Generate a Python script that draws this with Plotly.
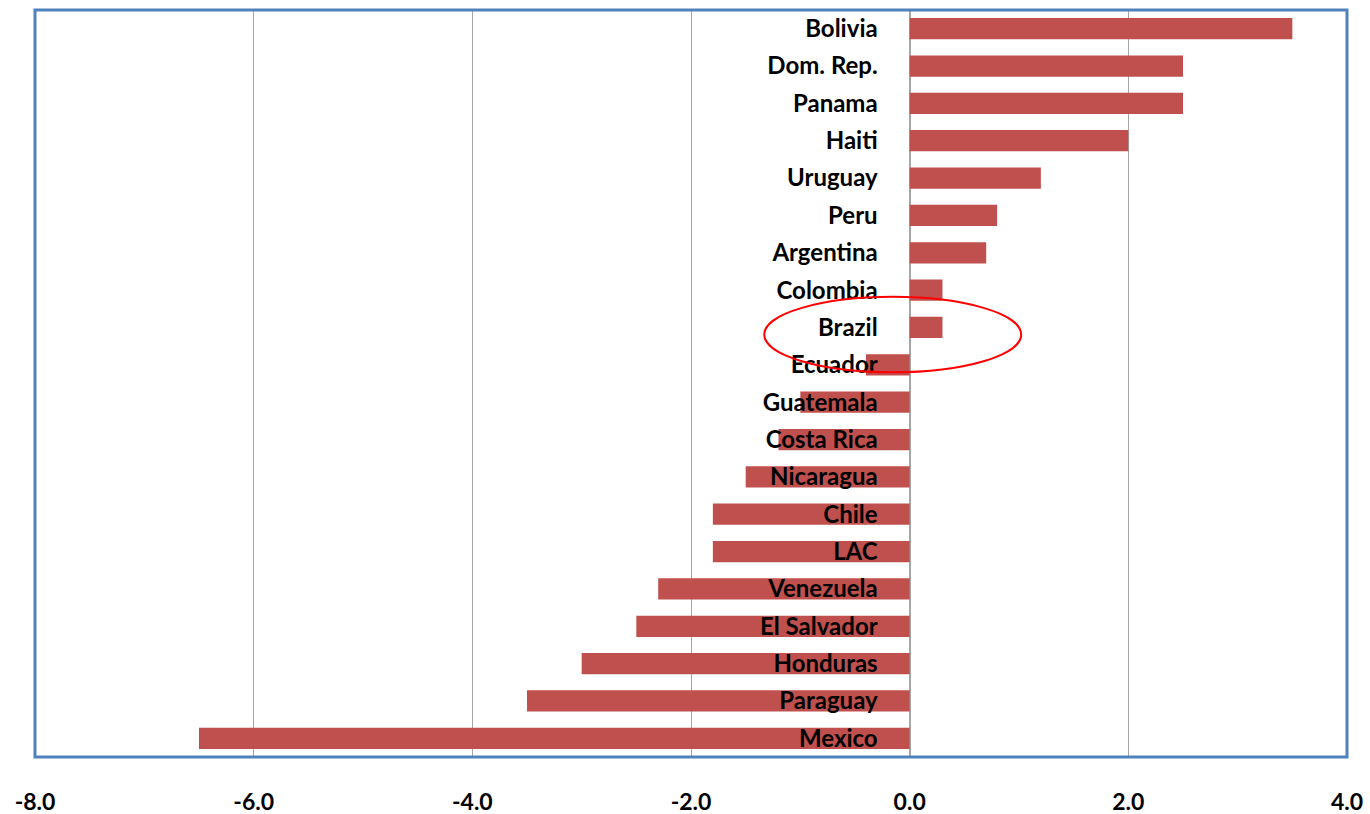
import plotly.graph_objects as go

# Countries listed top to bottom, with their values
countries = ["Bolivia", "Dom. Rep.", "Panama", "Haiti", "Uruguay", "Peru",
             "Argentina", "Colombia", "Brazil", "Ecuador", "Guatemala",
             "Costa Rica", "Nicaragua", "Chile", "LAC", "Venezuela",
             "El Salvador", "Honduras", "Paraguay", "Mexico"]
values = [3.5, 2.5, 2.5, 2.0, 1.2, 0.8, 0.7, 0.3, 0.3, -0.4, -1.0,
          -1.2, -1.5, -1.8, -1.8, -2.3, -2.5, -3.0, -3.5, -6.5]

x_ticks = [-8, -6, -4, -2, 0, 2, 4]
x_range = [-8, 4]
highlight = "Brazil"

# plot bottom-to-top so the first country sits at the top
cats = countries[::-1]
vals = values[::-1]

fig = go.Figure(go.Bar(
    x=vals, y=cats, orientation="h",
    marker=dict(color="#C0504D", line=dict(width=0)),
    width=0.57,
))

zero_frac = (0 - x_range[0]) / (x_range[1] - x_range[0])
label_font = dict(family="Lato", size=24, color="black", weight="bold")
xtick_font = dict(family="Lato", size=23, color="black", weight="bold")

fig.update_layout(
    width=1370, height=814,
    margin=dict(l=35, r=23, t=10, b=57),
    paper_bgcolor="white", plot_bgcolor="white",
    showlegend=False,
    font=dict(family="Lato", size=24, color="black"),
    xaxis=dict(
        range=x_range, tickvals=x_ticks,
        ticktext=[f"{v:.1f}" for v in x_ticks],
        showgrid=True, gridcolor="#A6A6A6", gridwidth=1,
        zeroline=True, zerolinecolor="#A6A6A6", zerolinewidth=1.5,
        ticks="", ticklabelstandoff=29, automargin=False,
        tickfont=xtick_font,
        showline=False,
    ),
    yaxis=dict(
        categoryorder="array", categoryarray=cats,
        range=[-0.5, len(cats) - 0.5],
        anchor="free", position=zero_frac, automargin=False,
        showgrid=False, zeroline=False, showline=False,
        ticks="", ticklabelstandoff=32,
        tickfont=label_font,
    ),
)

# plot-area border
fig.add_shape(type="rect", xref="paper", yref="paper",
              x0=0, x1=1, y0=0, y1=1,
              line=dict(color="#4F81BD", width=3), layer="above")

# ellipse drawn around the highlighted country
hi = cats.index(highlight)
fig.add_shape(type="circle", xref="x", yref="y",
              x0=-1.33, x1=1.02, y0=hi - 1.2, y1=hi + 0.82,
              line=dict(color="#FF0000", width=2), layer="above")

fig.write_html("out.html")
